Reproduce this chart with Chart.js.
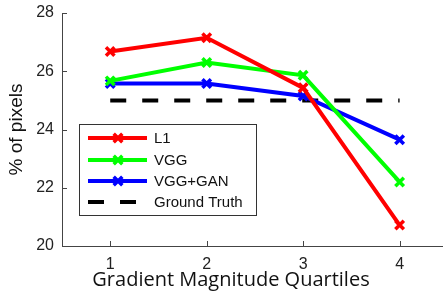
<!DOCTYPE html>
<html>
<head>
<meta charset="utf-8">
<script src="https://cdn.jsdelivr.net/npm/chart.js@4.4.1/dist/chart.umd.min.js"></script>
<style>
html,body{margin:0;padding:0;background:#fff;}
#wrap{width:443px;height:295px;}
</style>
</head>
<body>
<div id="wrap"><canvas id="c" width="443" height="295"></canvas></div>
<script>
// data
const quartiles=[1,2,3,4];
const l1=[26.68,27.15,25.43,20.72];
const vgg=[25.67,26.3,25.86,22.2];
const vggGan=[25.58,25.58,25.15,23.65];
const groundTruth=[25,25,25,25];
const yTicks=[20,22,24,26,28];

function pts(vals){
    return quartiles.map((q,i)=>({x:q,y:vals[i]}));
}

function series(label,vals,color){
    return {label:label,data:pts(vals),borderColor:color,backgroundColor:color,
        borderWidth:4,pointStyle:"crossRot",pointRadius:6,pointBorderWidth:3.5,
        pointHoverRadius:6,tension:0,fill:false};
}

const axisColor="#444";

// MATLAB-style inward ticks, legend box and x title
const extras={
    id:"extras",
    afterDraw(chart){
        const ctx=chart.ctx,xs=chart.scales.x,ys=chart.scales.y,a=chart.chartArea;
        ctx.save();
        ctx.strokeStyle=axisColor;ctx.lineWidth=1;
        ctx.beginPath();
        quartiles.forEach(q=>{
            const px=Math.round(xs.getPixelForValue(q))+0.5;
            ctx.moveTo(px,a.bottom);ctx.lineTo(px,a.bottom-5);
        });
        yTicks.forEach(v=>{
            const py=Math.round(ys.getPixelForValue(v))+0.5;
            ctx.moveTo(a.left,py);ctx.lineTo(a.left+5,py);
        });
        ctx.stroke();

        // legend
        const bx=79.5,by=124.5,bw=177,bh=91;
        ctx.fillStyle="#fff";ctx.fillRect(bx,by,bw,bh);
        ctx.strokeStyle="#333";ctx.lineWidth=1;ctx.strokeRect(bx,by,bw,bh);
        const rows=[138,160,181,202];
        ctx.font="15px 'Liberation Sans', Arial, sans-serif";
        ctx.textBaseline="middle";ctx.textAlign="left";
        chart.data.datasets.forEach((ds,i)=>{
            const y=rows[i];
            ctx.strokeStyle=ds.borderColor;ctx.lineWidth=4;
            ctx.setLineDash(ds.borderDash||[]);
            ctx.beginPath();ctx.moveTo(88,y);ctx.lineTo(147,y);ctx.stroke();
            ctx.setLineDash([]);
            if(ds.pointRadius>0){
                const r=ds.pointRadius*0.72;
                ctx.lineWidth=ds.pointBorderWidth;
                ctx.beginPath();
                ctx.moveTo(118-r,y-r);ctx.lineTo(118+r,y+r);
                ctx.moveTo(118-r,y+r);ctx.lineTo(118+r,y-r);
                ctx.stroke();
            }
            ctx.fillStyle="#111";
            ctx.fillText(ds.label,154,y+1);
        });

        // x axis title
        ctx.font="20px 'Open Sans', sans-serif";
        ctx.textAlign="center";ctx.fillStyle="#111";
        ctx.fillText("Gradient Magnitude Quartiles",231,280);
        ctx.restore();
    }
};

new Chart(document.getElementById("c"),{
    type:"line",
    data:{datasets:[
        series("L1",l1,"#ff0000"),
        series("VGG",vgg,"#00ff00"),
        series("VGG+GAN",vggGan,"#0000ff"),
        {label:"Ground Truth",data:pts(groundTruth),borderColor:"#000",backgroundColor:"#000",
            borderWidth:4,borderDash:[16,16],pointRadius:0,fill:false}
    ]},
    options:{
        responsive:false,animation:false,
        layout:{autoPadding:false,padding:{top:13,right:0,left:0,bottom:0}},
        plugins:{legend:{display:false},tooltip:{enabled:false}},
        scales:{
            x:{type:"linear",min:0.5,max:4.45,
                afterBuildTicks:s=>{s.ticks=quartiles.map(v=>({value:v}));},
                afterFit:s=>{s.height=49;s.paddingLeft=0;s.paddingRight=0;},
                grid:{display:false,drawTicks:false},
                border:{display:true,color:axisColor,width:1},
                ticks:{padding:9,color:"#222",font:{family:"'Liberation Sans', Arial, sans-serif",size:16}}},
            y:{min:20,max:28,
                afterBuildTicks:s=>{s.ticks=yTicks.map(v=>({value:v}));},
                afterFit:s=>{s.width=62;s.paddingTop=0;s.paddingBottom=0;},
                grid:{display:false,drawTicks:false},
                border:{display:true,color:axisColor,width:1},
                ticks:{padding:8,color:"#222",font:{family:"'Liberation Sans', Arial, sans-serif",size:16}},
                title:{display:true,text:"% of pixels",color:"#111",padding:{top:5,bottom:0},
                    font:{family:"'Liberation Sans', Arial, sans-serif",size:19}}}
        }
    },
    plugins:[extras]
});
</script>
</body>
</html>
